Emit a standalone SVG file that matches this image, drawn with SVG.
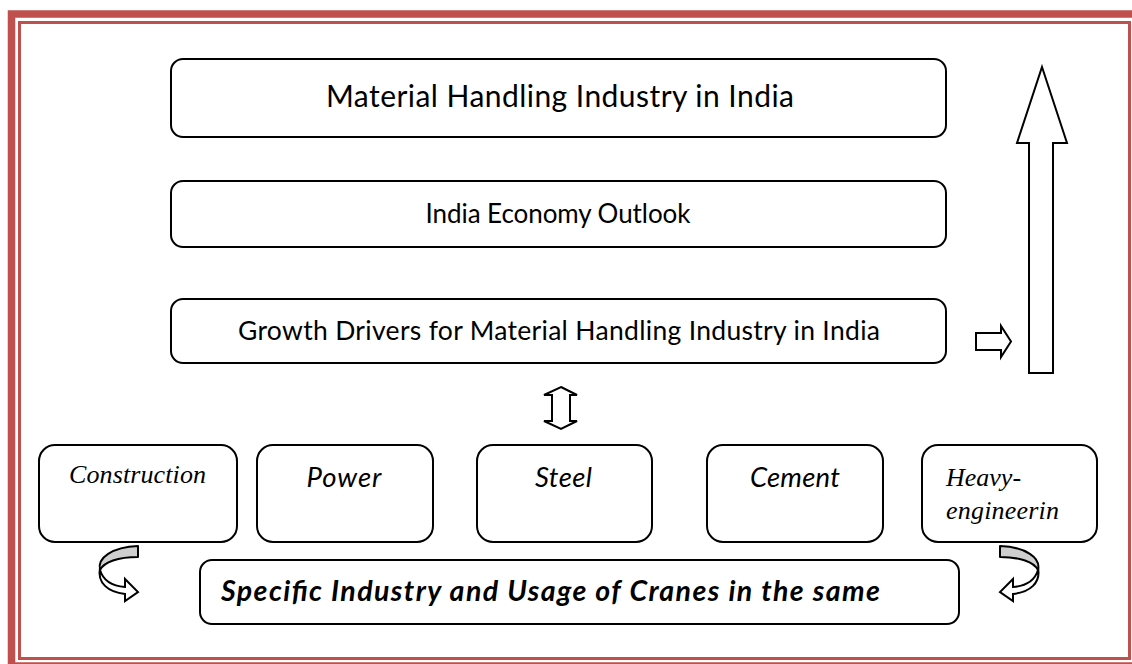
<svg xmlns="http://www.w3.org/2000/svg" width="1132" height="664" viewBox="0 0 1132 664">
<style>
.box{fill:#fff;stroke:#000;stroke-width:2}
.t{font-family:Lato,"Open Sans","Liberation Sans",sans-serif;font-size:26.5px;fill:#000;text-anchor:middle}
.ti{font-family:Lato,"Open Sans","Liberation Sans",sans-serif;font-size:27.5px;font-style:italic;fill:#000;text-anchor:middle}
.ts{font-family:"Liberation Serif","Times New Roman",serif;font-size:26px;font-style:italic;fill:#000}
.tb{font-family:Lato,"Open Sans","Liberation Sans",sans-serif;font-size:28.5px;font-style:italic;font-weight:bold;fill:#000}
.arr{fill:#fff;stroke:#000;stroke-width:2;stroke-linejoin:miter}
.band{fill:#cfcfcf;stroke:#000;stroke-width:2;stroke-linejoin:round}
.band2{fill:#fff;stroke:#000;stroke-width:2;stroke-linejoin:miter}
</style>
<rect x="0" y="0" width="1132" height="664" fill="#fff"/>
<g id="frame" fill="none" stroke="#c0504d">
<rect x="11.5" y="14" width="1126" height="652" stroke-width="7.5"/>
<rect x="19.5" y="22.5" width="1110" height="636" stroke-width="3"/>
</g>
<g id="n-material">
<rect class="box" x="171" y="59" width="775" height="78" rx="12"/>
<text class="t" x="560" y="107" textLength="468" style="font-size:30px">Material Handling Industry in India</text>
</g>
<g id="n-economy">
<rect class="box" x="171" y="181" width="775" height="66" rx="12"/>
<text class="t" x="558" y="223" textLength="265" style="font-size:26px">India Economy Outlook</text>
</g>
<g id="n-growth">
<rect class="box" x="171" y="299" width="775" height="64" rx="12"/>
<text class="t" x="559" y="340" textLength="642">Growth Drivers for Material Handling Industry in India</text>
</g>
<g id="n-construction">
<rect class="box" x="39" y="445" width="198" height="97" rx="16"/>
<text class="ts" x="69" y="483" textLength="137">Construction</text>
</g>
<g id="n-power">
<rect class="box" x="257" y="445" width="176" height="97" rx="16"/>
<text class="ti" x="344" y="487" textLength="75">Power</text>
</g>
<g id="n-steel">
<rect class="box" x="477" y="445" width="175" height="97" rx="16"/>
<text class="ti" x="563.5" y="487" textLength="57">Steel</text>
</g>
<g id="n-cement">
<rect class="box" x="707" y="445" width="176" height="97" rx="16"/>
<text class="ti" x="795" y="487" textLength="90">Cement</text>
</g>
<g id="n-heavy">
<rect class="box" x="922" y="445" width="175" height="97" rx="16"/>
<text class="ts" x="946" y="486">Heavy-</text>
<text class="ts" x="946" y="519" textLength="113">engineerin</text>
</g>
<g id="n-specific">
<rect class="box" x="200" y="560" width="759" height="64" rx="12"/>
<text class="tb" x="221" y="601" textLength="659">Specific Industry and Usage of Cranes in the same</text>
</g>
<g id="connectors">
<polygon class="arr" points="1042,67 1067,143 1053,143 1053,373 1029,373 1029,143 1017,143"/>
<polygon class="arr" points="976,333 1001,333 1001,326 1011,341.5 1001,357 1001,350 976,350"/>
<polygon class="arr" points="561,387 577,395 570,395 570,421 577,421 561,429 544,421 552,421 552,395 544,395"/>
<g id="curl-left">
<path class="band2" d="M100,568 C97,583 108,592 125,594 L125,601 L138,592 L125,579 L125,587 C112,586 103,580 100,570 Z"/>
<path class="band" d="M138,546 L138,557 C118,557 104,562 100,570 C97,558 112,547 138,546 Z"/>
</g>
<g id="curl-right" transform="translate(1138,0) scale(-1,1)">
<path class="band2" d="M100,568 C97,583 108,592 125,594 L125,601 L138,592 L125,579 L125,587 C112,586 103,580 100,570 Z"/>
<path class="band" d="M138,546 L138,557 C118,557 104,562 100,570 C97,558 112,547 138,546 Z"/>
</g>
</g>
</svg>
